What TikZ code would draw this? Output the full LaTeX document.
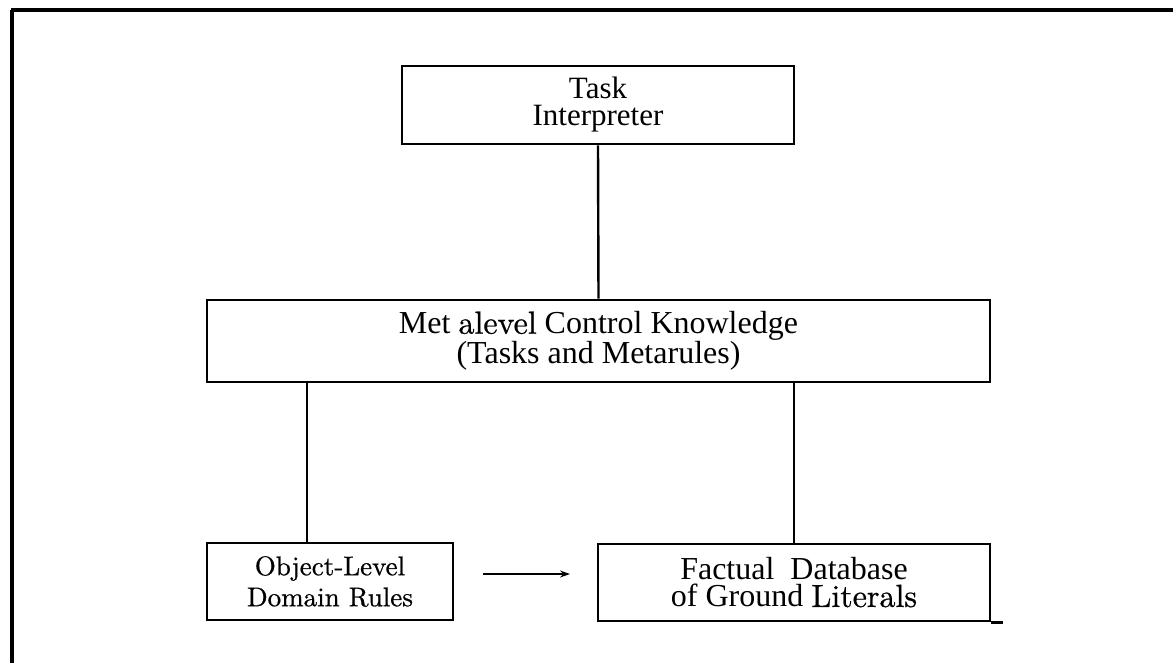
\documentclass[tikz,border=0pt]{standalone}
\usepackage{fontspec}
\newfontfamily\tms{Liberation Serif}
\newfontface\cmh{lmroman10-regular.otf}[FakeBold=0.7]
\usetikzlibrary{arrows.meta,calc}
\begin{document}
\begin{tikzpicture}[x=1pt,y=-1pt,
  box/.style={draw,line width=2.6pt,inner sep=0pt,align=center},
  frame/.style={line width=3.2pt},
  conn/.style={line width=2.4pt}]
\useasboundingbox (0,0) rectangle (1173,663);
\draw[frame] (11,10) -- (1173,10);
\draw[frame] (12,10) -- (12,663);
\node[box,minimum width=392pt,minimum height=78pt,
  font=\tms\fontsize{31}{27}\selectfont] (task) at (598,105)
  {Task\\Interpreter};
\node[box,minimum width=783pt,minimum height=82pt,
  font=\fontsize{32}{30}\selectfont] (meta) at (598.5,341)
  {{\tms Met }{\cmh alevel}{\tms\ Control Knowledge}\\{\tms (Tasks and Metarules)}};
\node[box,minimum width=246pt,minimum height=77pt,
  font=\cmh\fontsize{27}{31}\selectfont] (obj) at (330,581.5)
  {Object-Level\\Domain Rules};
\node[box,minimum width=392pt,minimum height=77pt,
  font=\fontsize{32}{27}\selectfont] (fact) at (794,582.5)
  {{\tms Factual\ \ Database}\\{\tms of Ground }{\cmh Literals}};
\coordinate (cl) at (307,0);
\coordinate (a1) at (483,574);
\coordinate (a2) at (570,574);
\draw[conn] (task.south) -- (meta.north);
\draw[conn] (cl |- meta.south) -- (cl |- obj.north);
\draw[conn] (fact.north) -- (fact.north |- meta.south);
\draw[line width=1.6pt,-{Stealth[length=10pt,width=7pt]}] (a1) -- (a2);
\draw[conn] (fact.south east) -- ++(12,0);
\end{tikzpicture}
\end{document}
